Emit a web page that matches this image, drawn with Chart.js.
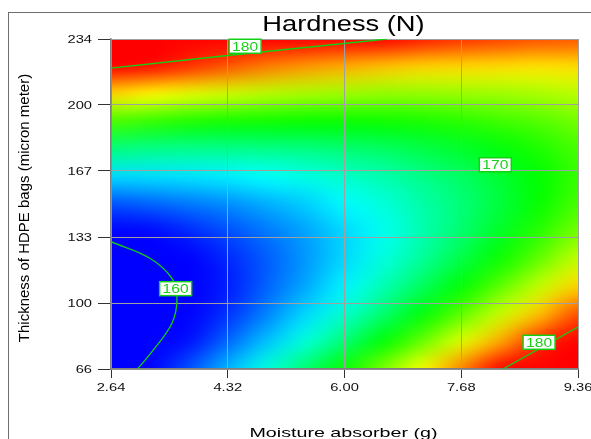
<!DOCTYPE html>
<html>
<head>
<meta charset="utf-8">
<script src="https://cdn.jsdelivr.net/npm/chart.js@4.4.1/dist/chart.umd.min.js"></script>
<style>
  html, body { margin: 0; padding: 0; background: #fff; overflow: hidden; }
</style>
</head>
<body>
<canvas id="hardnessChart" width="591" height="439"></canvas>
<script>
// grid of the response surface (rows go bottom -> top)
const moistureNodes = [2.64, 3.20, 3.76, 4.32, 4.88, 5.44, 6.00, 6.56, 7.12, 7.68, 8.24, 8.80, 9.36];
const thicknessNodes = [66, 80, 94, 108, 122, 136, 150, 164, 178, 192, 206, 220, 234];
const hardness = [
  [159.2, 160.9, 162.7, 164.6, 166.5, 168.6, 170.7, 172.9, 175.2, 177.6, 180.1, 182.6, 185.2],
  [158.4, 159.9, 161.5, 163.1, 164.8, 166.6, 168.5, 170.5, 172.5, 174.7, 176.9, 179.2, 181.6],
  [158.2, 159.4, 160.7, 162.1, 163.6, 165.2, 166.8, 168.6, 170.4, 172.3, 174.3, 176.4, 178.6],
  [158.5, 159.5, 160.6, 161.7, 163.0, 164.3, 165.7, 167.3, 168.9, 170.5, 172.3, 174.2, 176.1],
  [159.4, 160.1, 161.0, 161.9, 162.9, 164.0, 165.2, 166.5, 167.8, 169.3, 170.8, 172.4, 174.2],
  [160.8, 161.3, 161.9, 162.6, 163.4, 164.2, 165.2, 166.2, 167.4, 168.6, 169.9, 171.3, 172.8],
  [162.7, 163.0, 163.4, 163.8, 164.4, 165.0, 165.8, 166.6, 167.5, 168.4, 169.5, 170.7, 171.9],
  [165.2, 165.3, 165.4, 165.6, 166.0, 166.4, 166.9, 167.4, 168.1, 168.8, 169.7, 170.6, 171.6],
  [168.3, 168.1, 168.0, 168.0, 168.1, 168.2, 168.5, 168.8, 169.3, 169.8, 170.4, 171.1, 171.9],
  [171.9, 171.5, 171.1, 170.9, 170.8, 170.7, 170.7, 170.8, 171.0, 171.3, 171.7, 172.1, 172.7],
  [176.0, 175.4, 174.8, 174.4, 174.0, 173.7, 173.5, 173.3, 173.3, 173.4, 173.5, 173.7, 174.0],
  [180.7, 179.8, 179.1, 178.4, 177.7, 177.2, 176.8, 176.4, 176.1, 176.0, 175.9, 175.8, 175.9],
  [186.0, 184.9, 183.8, 182.9, 182.1, 181.3, 180.6, 180.0, 179.5, 179.1, 178.8, 178.5, 178.4]
];

// contour lines
const contour180TopX = [2.64, 4.32, 6.61];
const contour180TopY = [219.2, 225.6, 234];
const contour180BottomX = [8.28, 9.36];
const contour180BottomY = [66, 87.4];
const contour160X = [2.64, 3.20, 3.52, 3.59, 3.52, 3.25, 3.02];
const contour160Y = [130.8, 122.4, 112.0, 102.0, 89.5, 75.7, 66];

// contour labels
const labelText = ["180", "170", "160", "180"];
const labelX = [4.57, 8.17, 3.57, 8.80];
const labelY = [230.3, 170.0, 106.9, 79.6];

// axes
const xTickValues = [2.64, 4.32, 6.00, 7.68, 9.36];
const xTickLabels = ["2.64", "4.32", "6.00", "7.68", "9.36"];
const yTickValues = [66, 99.6, 133.2, 166.8, 200.4, 234];
const yTickLabels = ["66", "100", "133", "167", "200", "234"];

const colorLow = 161.2;
const colorHigh = 180;
const lineGreen = "#12D012";

function toPoints(xs, ys) {
  return xs.map((x, i) => ({ x: x, y: ys[i] }));
}

function hueRgb(v) {
  let t = (colorHigh - v) / (colorHigh - colorLow);
  t = Math.max(0, Math.min(1, t));
  const hp = (t * 240) / 60;
  const c = 1 - Math.abs((hp % 2) - 1);
  let rgb;
  if (hp < 1) rgb = [1, c, 0];
  else if (hp < 2) rgb = [c, 1, 0];
  else if (hp < 3) rgb = [0, 1, c];
  else if (hp < 4) rgb = [0, c, 1];
  else rgb = [c, 0, 1];
  return rgb.map((k) => Math.round(k * 255));
}

function stretchedText(ctx, text, x, y, font, sx, align, color) {
  ctx.save();
  ctx.translate(x, y);
  ctx.scale(sx, 1);
  ctx.font = font;
  ctx.fillStyle = color;
  ctx.textAlign = align;
  ctx.textBaseline = "alphabetic";
  ctx.fillText(text, 0, 0);
  ctx.restore();
}

const surfacePlugin = {
  id: "surface",
  beforeDraw(chart) {
    const ctx = chart.ctx;
    const area = chart.chartArea;
    const xs = chart.scales.x;
    const ys = chart.scales.y;

    // outer frame
    ctx.save();
    ctx.strokeStyle = "#6e6e6e";
    ctx.lineWidth = 1;
    ctx.strokeRect(8.5, 12.5, 700, 600);
    ctx.restore();

    const nx = moistureNodes.length;
    const ny = thicknessNodes.length;
    const off = document.createElement("canvas");
    off.width = nx;
    off.height = ny;
    const octx = off.getContext("2d");
    const img = octx.createImageData(nx, ny);
    for (let r = 0; r < ny; r++) {
      const row = hardness[ny - 1 - r];
      for (let c = 0; c < nx; c++) {
        const rgb = hueRgb(row[c]);
        const k = (r * nx + c) * 4;
        img.data[k] = rgb[0];
        img.data[k + 1] = rgb[1];
        img.data[k + 2] = rgb[2];
        img.data[k + 3] = 255;
      }
    }
    octx.putImageData(img, 0, 0);

    const x0 = xs.getPixelForValue(moistureNodes[0]);
    const x1 = xs.getPixelForValue(moistureNodes[nx - 1]);
    const yTop = ys.getPixelForValue(thicknessNodes[ny - 1]);
    const yBot = ys.getPixelForValue(thicknessNodes[0]);
    const dx = (x1 - x0) / (nx - 1);
    const dy = (yBot - yTop) / (ny - 1);

    ctx.save();
    ctx.beginPath();
    ctx.rect(area.left, area.top, area.right - area.left, area.bottom - area.top);
    ctx.clip();
    ctx.imageSmoothingEnabled = true;
    ctx.imageSmoothingQuality = "high";
    ctx.drawImage(off, x0 - dx / 2, yTop - dy / 2, dx * nx, dy * ny);
    ctx.restore();
  },
  afterDraw(chart) {
    const ctx = chart.ctx;
    const area = chart.chartArea;
    const xs = chart.scales.x;
    const ys = chart.scales.y;
    const font = (size) => size + "px 'Liberation Sans', Arial, sans-serif";

    // contour labels
    labelText.forEach((txt, i) => {
      const px = xs.getPixelForValue(labelX[i]);
      const py = ys.getPixelForValue(labelY[i]);
      ctx.save();
      ctx.fillStyle = "#fff";
      ctx.fillRect(px - 16, py - 7, 32, 14);
      ctx.strokeStyle = lineGreen;
      ctx.lineWidth = 1.5;
      ctx.strokeRect(px - 16, py - 7, 32, 14);
      ctx.restore();
      stretchedText(ctx, txt, px, py + 4.6, font(13), 1.2, "center", "#18d018");
    });

    // tick labels
    xs.ticks.forEach((t, i) => {
      stretchedText(ctx, xTickLabels[i], xs.getPixelForValue(t.value), 391, font(10.5), 1.4, "center", "#111");
    });
    ys.ticks.forEach((t, i) => {
      stretchedText(ctx, yTickLabels[i], 92, ys.getPixelForValue(t.value) + 3.8, font(10.5), 1.4, "right", "#111");
    });

    // titles
    const cx = (area.left + area.right) / 2;
    stretchedText(ctx, "Hardness (N)", cx - 1, 31, font(21.5), 1.27, "center", "#000");
    stretchedText(ctx, "Moisture absorber (g)", cx - 1, 437, font(13.3), 1.48, "center", "#000");

    ctx.save();
    ctx.translate(29, 208);
    ctx.rotate(-Math.PI / 2);
    ctx.font = font(15);
    ctx.fillStyle = "#000";
    ctx.textAlign = "center";
    ctx.textBaseline = "alphabetic";
    ctx.fillText("Thickness of HDPE bags (micron meter)", 0, 0);
    ctx.restore();
  }
};

const lineStyle = {
  showLine: true,
  borderColor: lineGreen,
  borderWidth: 1.3,
  pointRadius: 0,
  fill: false
};

const chartCanvas = document.getElementById("hardnessChart");
const hardnessChart = new Chart(chartCanvas, {
  type: "scatter",
  data: {
    datasets: [
      Object.assign({ label: "180", data: toPoints(contour180TopX, contour180TopY), tension: 0 }, lineStyle),
      Object.assign({ label: "180", data: toPoints(contour180BottomX, contour180BottomY), tension: 0 }, lineStyle),
      Object.assign({ label: "160", data: toPoints(contour160X, contour160Y), tension: 0.4 }, lineStyle)
    ]
  },
  options: {
    responsive: false,
    devicePixelRatio: 1,
    animation: false,
    events: [],
    layout: { padding: { top: 39, right: 13, left: 0, bottom: 0 } },
    plugins: {
      legend: { display: false },
      tooltip: { enabled: false },
      title: { display: false }
    },
    scales: {
      x: {
        type: "linear",
        min: 2.64,
        max: 9.36,
        afterBuildTicks: (axis) => {
          axis.ticks = xTickValues.map((v) => ({ value: v }));
        },
        afterFit: (scale) => {
          scale.height = 70;
        },
        ticks: { display: false },
        grid: { color: "#a0a0a0", lineWidth: 1, tickLength: 9, tickColor: "#333" },
        border: { color: "#808080", width: 1.5 }
      },
      y: {
        type: "linear",
        min: 66,
        max: 234,
        afterBuildTicks: (axis) => {
          axis.ticks = yTickValues.map((v) => ({ value: v }));
        },
        afterFit: (scale) => {
          scale.width = 111;
        },
        ticks: { display: false },
        grid: { color: "#a0a0a0", lineWidth: 1, tickLength: 13, tickColor: "#333" },
        border: { color: "#808080", width: 1.5 }
      }
    }
  },
  plugins: [surfacePlugin]
});
</script>
</body>
</html>
